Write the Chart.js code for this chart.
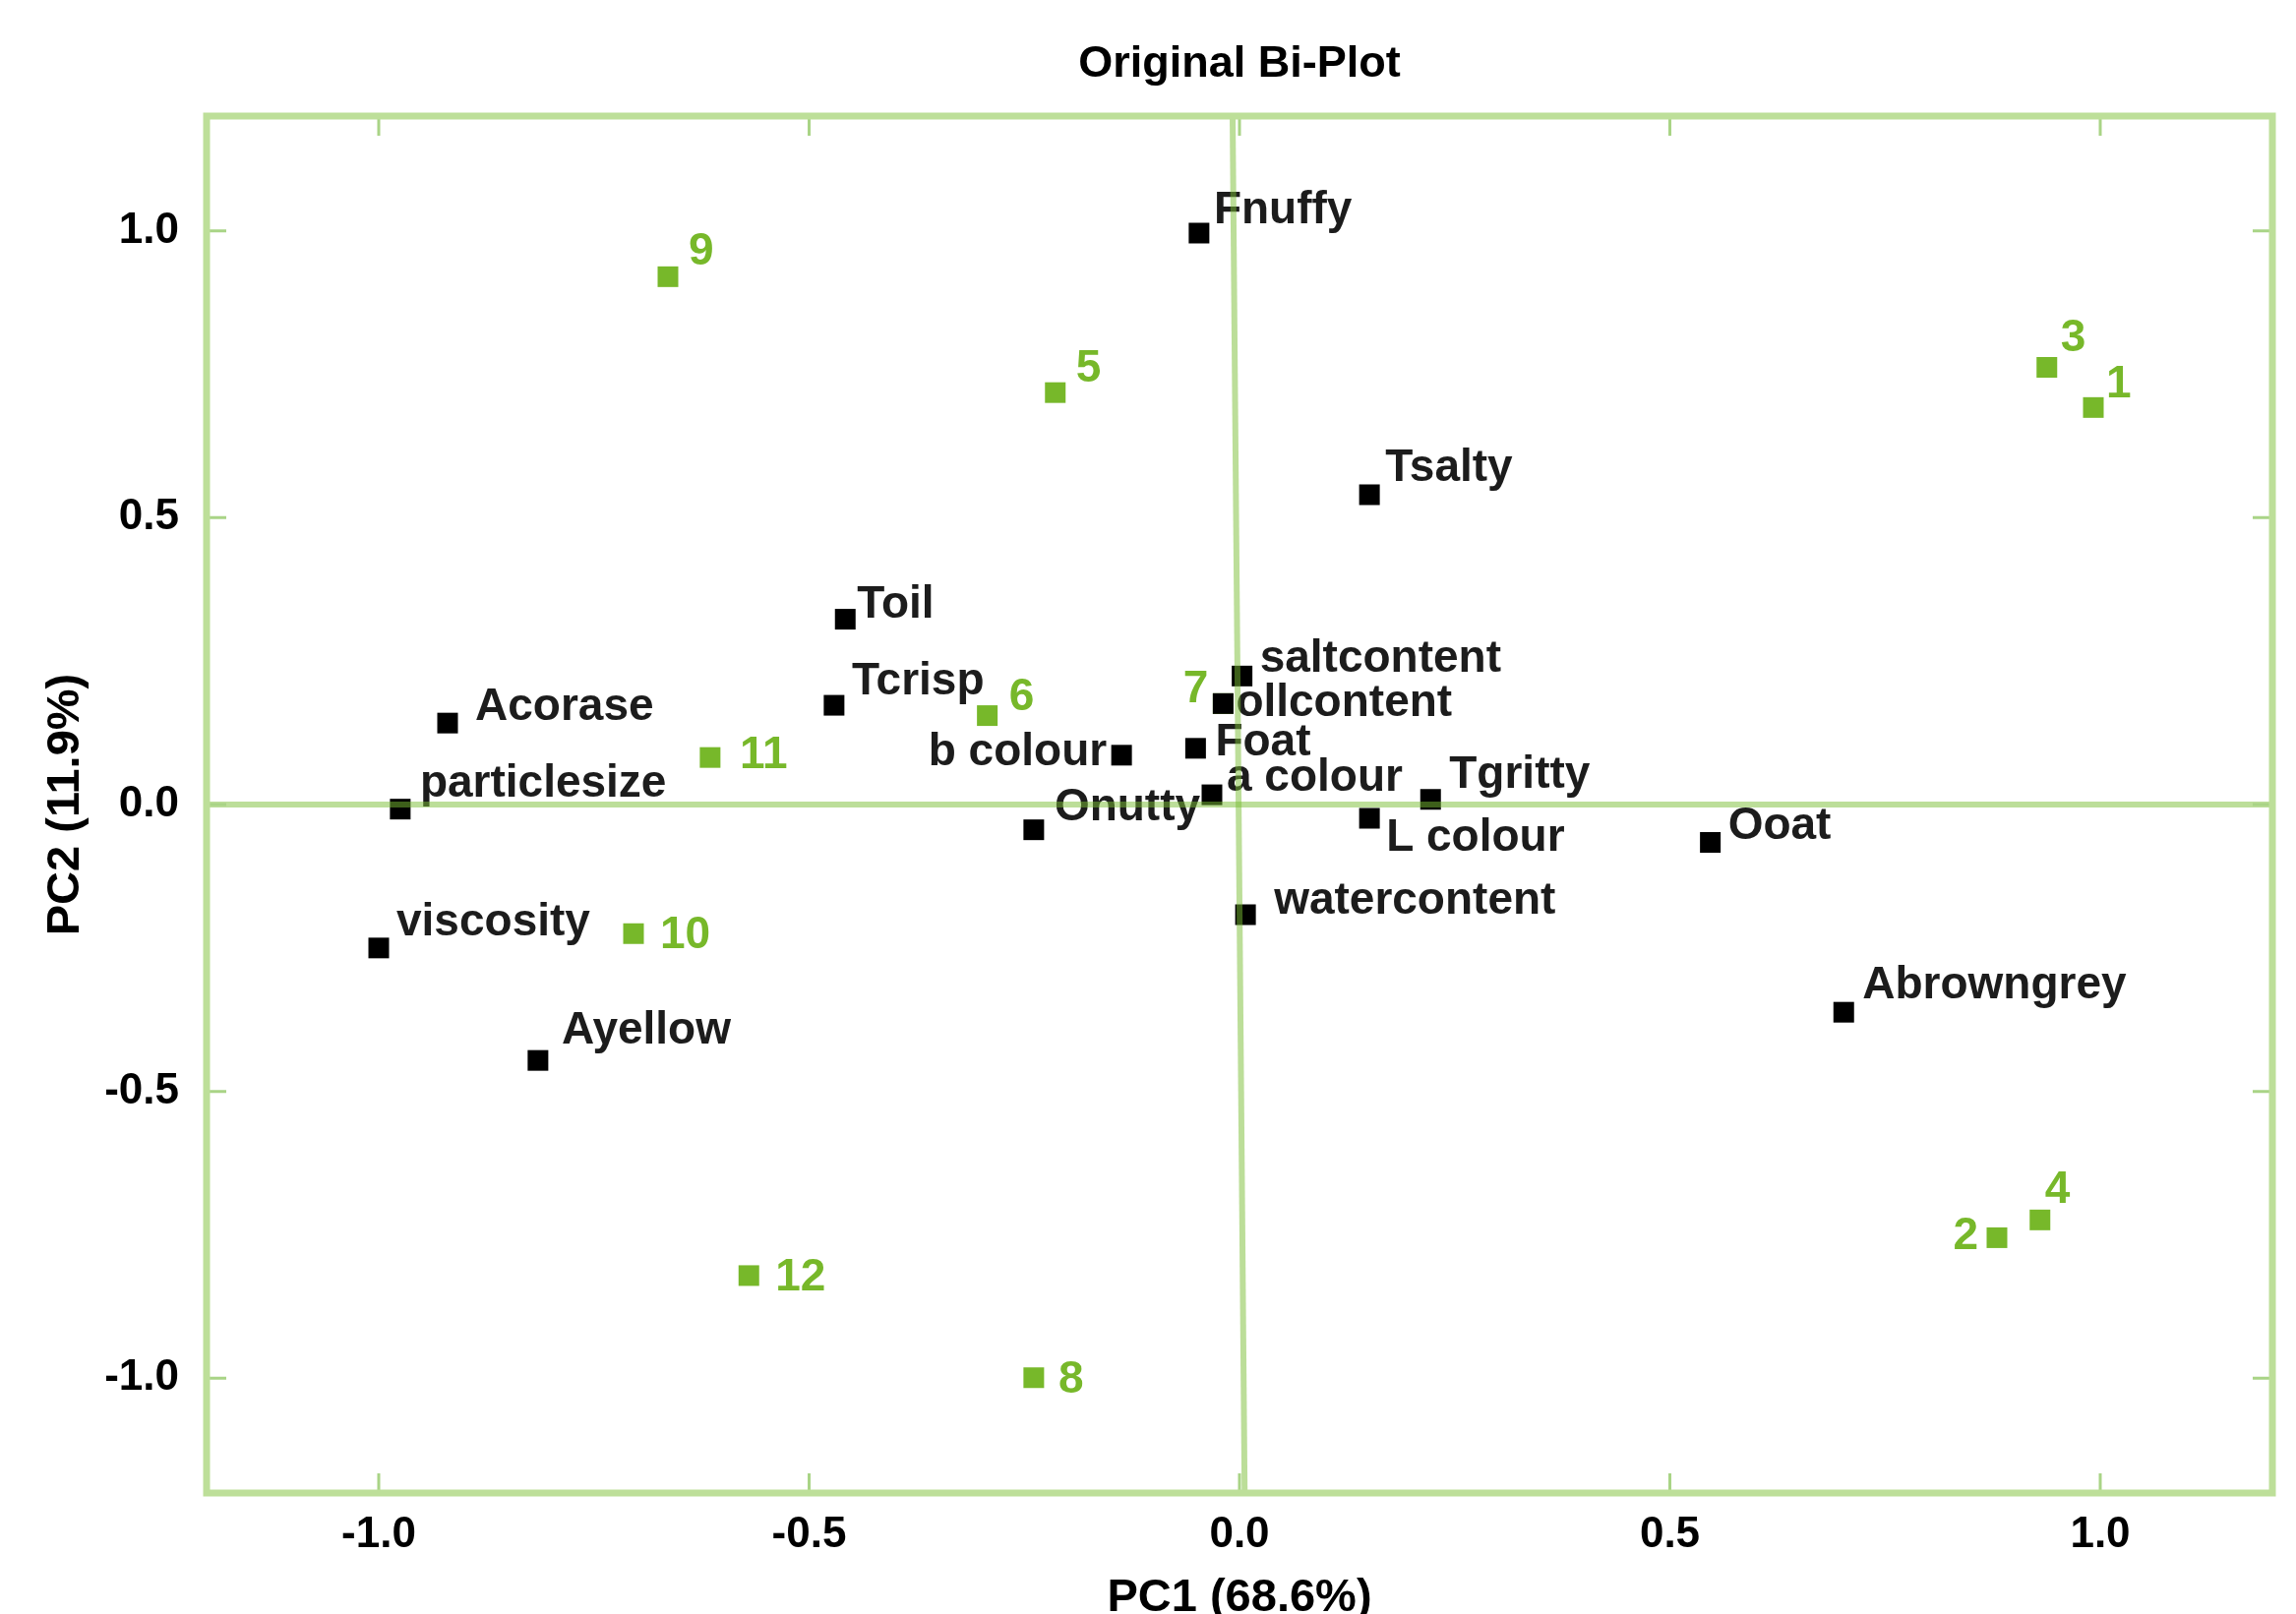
<!DOCTYPE html>
<html><head><meta charset="utf-8">
<script src="https://cdn.jsdelivr.net/npm/chart.js@4"></script>
<style>html,body{margin:0;padding:0;background:#fff;overflow:hidden}</style>
</head><body>
<canvas id="c" width="2334" height="1641"></canvas>
<script>
// ---- data ----
const variableNames = ['Fnuffy','Tsalty','Toil','Tcrisp','Acorase','particlesize','viscosity','Ayellow','b colour','Onutty','saltcontent','ollcontent','Foat','a colour','L colour','Tgritty','watercontent','Ooat','Abrowngrey'];
const variablePC1 = [-0.047, 0.151, -0.458, -0.471, -0.920, -0.975, -1.000, -0.815, -0.137, -0.239, 0.003, -0.019, -0.051, -0.032, 0.151, 0.222, 0.007, 0.547, 0.702];
const variablePC2 = [0.996, 0.540, 0.323, 0.173, 0.142, -0.008, -0.250, -0.446, 0.086, -0.044, 0.224, 0.176, 0.098, 0.017, -0.024, 0.009, -0.192, -0.066, -0.362];
const sampleNames = ['1','2','3','4','5','6','7','8','9','10','11','12'];
const samplePC1 = [0.992, 0.880, 0.938, 0.930, -0.214, -0.293, -0.019, -0.239, -0.664, -0.704, -0.615, -0.570];
const samplePC2 = [0.692, -0.755, 0.762, -0.724, 0.718, 0.155, 0.176, -0.999, 0.920, -0.225, 0.082, -0.821];
const tickValues = [-1.0, -0.5, 0.0, 0.5, 1.0];
const tickLabels = ['-1.0', '-0.5', '0.0', '0.5', '1.0'];
const axisMin = -1.2, axisMax = 1.2;
const vAxisPC1 = [-0.008, 0.006];   // vertical reference line ends (top, bottom)

// ---- label placement (style) ----
const variableLabelOffsets = [
  [15,-10],[16,-14],[12,-2],[18,-11],[28,-3],[20,-13],[18,-13],[24,-17],[-15,10,'right'],[21,-10],
  [18,-4],[13,13],[20,7],[15,-4],[17,33],[19,-12],[29,-1],[18,-4],[19,-14]
];
const sampleLabelOffsets = [
  [13,-10],[-19,12,'right'],[14,-17],[5,-17],[21,-11],[22,-6],[-15,-1,'right'],[25,15],[21,-12],[27,15],[30,11],[27,15]
];

const GREEN = '#77b82a';
const FRAME = '#bddf99';
const LINE = 'rgba(122,190,52,0.5)';
const FONT = '"Liberation Sans", Arial, sans-serif';

const toPts = (xs, ys) => xs.map((x, i) => ({x, y: ys[i]}));

const labelPlugin = {
  id: 'pointLabels',
  afterDatasetDraw(chart, args) {
    const ds = chart.data.datasets[args.index];
    if (!ds.pointLabels) return;
    const ctx = chart.ctx;
    ctx.save();
    ctx.font = 'bold 46px ' + FONT;
    ctx.fillStyle = ds.labelColor;
    ctx.textBaseline = 'alphabetic';
    args.meta.data.forEach((pt, i) => {
      const off = ds.labelOffsets[i];
      ctx.textAlign = off[2] || 'left';
      ctx.fillText(ds.pointLabels[i], pt.x + off[0], pt.y + off[1]);
    });
    ctx.restore();
  }
};

const framePlugin = {
  id: 'frame',
  afterDraw(chart) {
    const {ctx, chartArea: a, scales: {x, y}} = chart;
    ctx.save();
    ctx.strokeStyle = '#a9d486';
    ctx.lineWidth = 3;
    const tl = 20;
    ctx.beginPath();
    tickValues.forEach(v => {
      const px = x.getPixelForValue(v);
      ctx.moveTo(px, a.top); ctx.lineTo(px, a.top + tl);
      ctx.moveTo(px, a.bottom); ctx.lineTo(px, a.bottom - tl);
      const py = y.getPixelForValue(v);
      ctx.moveTo(a.left, py); ctx.lineTo(a.left + tl, py);
      ctx.moveTo(a.right, py); ctx.lineTo(a.right - tl, py);
    });
    ctx.stroke();
    ctx.strokeStyle = FRAME;
    ctx.lineWidth = 7;
    ctx.strokeRect(a.left, a.top, a.right - a.left, a.bottom - a.top);
    ctx.restore();
  }
};

const setTicks = scale => { scale.ticks = tickValues.map(v => ({value: v})); };

new Chart(document.getElementById('c'), {
  type: 'scatter',
  data: {
    datasets: [
      {
        label: 'Samples', order: 3,
        data: toPts(samplePC1, samplePC2),
        pointStyle: 'rect', pointRadius: 14.85, pointHoverRadius: 14.85,
        backgroundColor: GREEN, borderColor: GREEN, borderWidth: 0,
        pointLabels: sampleNames, labelColor: GREEN, labelOffsets: sampleLabelOffsets
      },
      {
        label: 'Variables', order: 2,
        data: toPts(variablePC1, variablePC2),
        pointStyle: 'rect', pointRadius: 14.85, pointHoverRadius: 14.85,
        backgroundColor: '#000', borderColor: '#000', borderWidth: 0,
        pointLabels: variableNames, labelColor: '#1c1c1c', labelOffsets: variableLabelOffsets
      },
      {
        type: 'line', label: 'h0', order: 1,
        data: [{x: axisMin, y: 0}, {x: axisMax, y: 0}],
        borderColor: LINE, borderWidth: 6, pointRadius: 0, showLine: true, fill: false
      },
      {
        type: 'line', label: 'v0', order: 0,
        data: [{x: vAxisPC1[0], y: axisMax}, {x: vAxisPC1[1], y: axisMin}],
        borderColor: LINE, borderWidth: 6, pointRadius: 0, showLine: true, fill: false
      }
    ]
  },
  options: {
    responsive: false,
    animation: false,
    events: [],
    layout: {padding: {left: 0, right: 24, top: 0, bottom: 0}},
    plugins: {
      legend: {display: false},
      tooltip: {enabled: false},
      title: {
        display: true, text: 'Original Bi-Plot', color: '#000', fullSize: false,
        font: {family: FONT, size: 45, weight: 'bold', lineHeight: 1.2},
        padding: {top: 39, bottom: 25}
      }
    },
    scales: {
      x: {
        type: 'linear', min: axisMin, max: axisMax,
        afterBuildTicks: setTicks,
        afterFit: s => { s.height = 123; },
        grid: {display: false, drawTicks: false},
        border: {display: false},
        ticks: {
          color: '#000', padding: 16, maxRotation: 0, autoSkip: false,
          font: {family: FONT, size: 44, weight: 'bold', lineHeight: 1.2},
          callback: (v) => tickLabels[tickValues.indexOf(v)]
        },
        title: {
          display: true, text: 'PC1 (68.6%)', color: '#000',
          font: {family: FONT, size: 47, weight: 'bold', lineHeight: 0.6},
          padding: {top: 0, bottom: 2}
        }
      },
      y: {
        type: 'linear', min: axisMin, max: axisMax,
        afterBuildTicks: setTicks,
        afterFit: s => { s.width = 210; },
        grid: {display: false, drawTicks: false},
        border: {display: false},
        ticks: {
          color: '#000', padding: 28, autoSkip: false,
          font: {family: FONT, size: 44, weight: 'bold', lineHeight: 1.2},
          callback: (v) => tickLabels[tickValues.indexOf(v)]
        },
        title: {
          display: true, text: 'PC2 (11.9%)', color: '#000',
          font: {family: FONT, size: 47, weight: 'bold', lineHeight: 0.6},
          padding: {top: 53, bottom: 0}
        }
      }
    }
  },
  plugins: [labelPlugin, framePlugin]
});
</script>
</body></html>
